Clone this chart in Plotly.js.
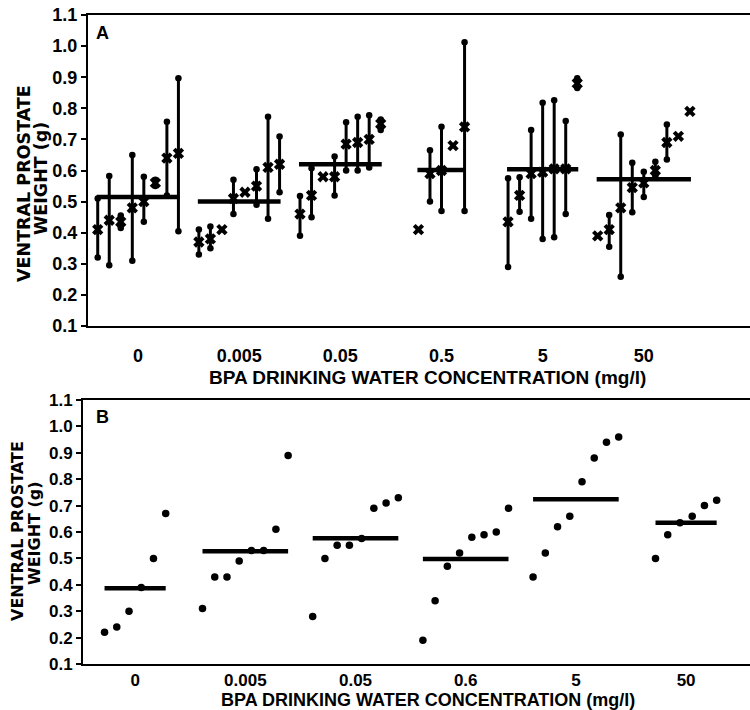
<!DOCTYPE html>
<html>
<head>
<meta charset="utf-8">
<script src="https://cdn.plot.ly/plotly-3.0.1.min.js"></script>
<style>html,body{margin:0;padding:0;background:#fff;}#chart{width:750px;height:710px;}</style>
</head>
<body>
<div id="chart"></div>
<script>
// ---------- DATA ----------
const doseLabelsA = ['0', '0.005', '0.05', '0.5', '5', '50'];
const doseLabelsB = ['0', '0.005', '0.05', '0.6', '5', '50'];

// Panel A: per-animal mean (x marker) with range (low/high), null = no range bar
const aMeans = [
  [0.41, 0.44, 0.435, 0.48, 0.50, 0.56, 0.64, 0.655],
  [0.37, 0.38, 0.41, 0.51, 0.53, 0.55, 0.61, 0.62],
  [0.46, 0.52, 0.58, 0.58, 0.685, 0.69, 0.70, 0.75],
  [0.41, 0.59, 0.60, 0.68, 0.74],
  [0.435, 0.52, 0.59, 0.595, 0.605, 0.605, 0.88],
  [0.39, 0.41, 0.48, 0.545, 0.56, 0.60, 0.69, 0.71, 0.79]
];
const aLows = [
  [0.32, 0.295, 0.415, 0.31, 0.435, 0.55, 0.52, 0.405],
  [0.33, 0.35, null, 0.46, null, 0.49, 0.445, 0.53],
  [0.39, 0.45, null, 0.52, 0.60, 0.60, 0.61, 0.73],
  [null, 0.50, 0.47, null, 0.47],
  [0.29, 0.467, 0.445, 0.38, 0.385, 0.46, 0.865],
  [null, 0.355, 0.258, 0.466, 0.515, 0.58, 0.635, null, null]
];
const aHighs = [
  [0.51, 0.582, 0.455, 0.65, 0.58, 0.57, 0.757, 0.897],
  [0.41, 0.42, null, 0.57, null, 0.604, 0.773, 0.709],
  [0.518, 0.607, null, 0.645, 0.755, 0.773, 0.778, 0.764],
  [null, 0.665, 0.741, null, 1.012],
  [0.575, 0.578, 0.73, 0.818, 0.826, 0.759, 0.897],
  [null, 0.457, 0.716, 0.625, 0.596, 0.628, 0.748, null, null]
];
const aGroupMeans = [0.515, 0.50, 0.62, 0.602, 0.604, 0.572];

// Panel B: individual values, sorted within each group
const bValues = [
  [0.22, 0.24, 0.30, 0.39, 0.50, 0.67],
  [0.31, 0.43, 0.43, 0.49, 0.53, 0.53, 0.61, 0.89],
  [0.28, 0.50, 0.55, 0.55, 0.575, 0.69, 0.71, 0.73],
  [0.19, 0.34, 0.47, 0.52, 0.58, 0.59, 0.60, 0.69],
  [0.43, 0.52, 0.62, 0.66, 0.79, 0.88, 0.94, 0.96],
  [0.50, 0.59, 0.635, 0.66, 0.70, 0.72]
];
const bGroupMeans = [0.387, 0.527, 0.576, 0.498, 0.724, 0.635];

const yTicks = [0.1, 0.2, 0.3, 0.4, 0.5, 0.6, 0.7, 0.8, 0.9, 1.0, 1.1];

// ---------- STYLE / LAYOUT CONSTANTS ----------
const FAM = 'Liberation Sans, Arial, Helvetica, sans-serif';
const FAM_WIDE = 'DejaVu Sans, Liberation Sans, sans-serif';
const BLACK = '#000';
const STEP_A = 0.114;
const STEP_B = 0.111;

function slotX(g, i, n, step) { return g + (i - (n - 1) / 2) * step; }

// ---------- PANEL A TRACES ----------
const traces = [];
{
  const lx = [], ly = [];
  aMeans.forEach((arr, g) => {
    const n = arr.length;
    lx.push(slotX(g, 0, n, STEP_A) - 0.01, slotX(g, n - 1, n, STEP_A) + 0.01, null);
    ly.push(aGroupMeans[g], aGroupMeans[g], null);
  });
  traces.push({x: lx, y: ly, xaxis: 'x', yaxis: 'y', mode: 'lines',
    line: {color: BLACK, width: 4.5}, hoverinfo: 'skip', showlegend: false});

  const mx = [], my = [], ep = [], em = [];
  const dx = [], dy = [];
  aMeans.forEach((arr, g) => {
    const n = arr.length;
    arr.forEach((m, i) => {
      const x = slotX(g, i, n, STEP_A);
      mx.push(x); my.push(m);
      const lo = aLows[g][i], hi = aHighs[g][i];
      ep.push(hi == null ? 0 : hi - m);
      em.push(lo == null ? 0 : m - lo);
      if (lo != null) { dx.push(x); dy.push(lo); }
      if (hi != null) { dx.push(x); dy.push(hi); }
    });
  });
  traces.push({x: mx, y: my, xaxis: 'x', yaxis: 'y', mode: 'markers',
    marker: {symbol: 'x', size: 10, color: BLACK, line: {width: 0}},
    error_y: {type: 'data', symmetric: false, array: ep, arrayminus: em,
      color: BLACK, thickness: 3, width: 0},
    hoverinfo: 'skip', showlegend: false});
  traces.push({x: dx, y: dy, xaxis: 'x', yaxis: 'y', mode: 'markers',
    marker: {symbol: 'circle', size: 6.5, color: BLACK},
    hoverinfo: 'skip', showlegend: false});
}

// ---------- PANEL B TRACES ----------
{
  const lx = [], ly = [];
  const px = [], py = [];
  bValues.forEach((arr, g) => {
    const n = arr.length;
    lx.push(slotX(g, 0, n, STEP_B), slotX(g, n - 1, n, STEP_B), null);
    ly.push(bGroupMeans[g], bGroupMeans[g], null);
    arr.forEach((v, i) => { px.push(slotX(g, i, n, STEP_B)); py.push(v); });
  });
  traces.push({x: lx, y: ly, xaxis: 'x2', yaxis: 'y2', mode: 'lines',
    line: {color: BLACK, width: 4.5}, hoverinfo: 'skip', showlegend: false});
  traces.push({x: px, y: py, xaxis: 'x2', yaxis: 'y2', mode: 'markers',
    marker: {symbol: 'circle', size: 7.5, color: BLACK},
    hoverinfo: 'skip', showlegend: false});
}

// ---------- LAYOUT ----------
const tickFont = (s) => ({family: FAM, size: s, color: BLACK, weight: 'bold'});
const yTickText = yTicks.map(v => v.toFixed(1));
function yAxis(domain, anchor, fs) {
  return {domain: domain, anchor: anchor, range: [0.1, 1.1], tickvals: yTicks, ticktext: yTickText,
    ticks: 'outside', ticklen: 5, tickwidth: 2, tickcolor: BLACK,
    showline: true, linecolor: BLACK, linewidth: 2, mirror: false,
    showgrid: false, zeroline: false, tickfont: tickFont(fs), fixedrange: true};
}
function xAxis(domain, anchor, range, labels, standoff, fs) {
  return {domain: domain, anchor: anchor, range: range,
    tickvals: labels.map((_, i) => i), ticktext: labels, ticks: '',
    ticklabelstandoff: standoff,
    showline: true, linecolor: BLACK, linewidth: 2, mirror: true,
    showgrid: false, zeroline: false, tickfont: tickFont(fs), fixedrange: true};
}

const ann = (text, x, y, size, angle, fam) => ({
  text: text, xref: 'paper', yref: 'paper', x: x, y: y, showarrow: false,
  xanchor: 'center', yanchor: 'middle', textangle: angle || 0,
  font: {family: fam || FAM, size: size, color: BLACK, weight: 'bold'}
});

const layout = {
  width: 750, height: 710,
  margin: {l: 83, r: 0, t: 15, b: 46, pad: 0},
  paper_bgcolor: '#fff', plot_bgcolor: '#fff',
  showlegend: false,
  xaxis: xAxis([0.0075, 1], 'y', [-0.495, 6.05], doseLabelsA, 12, 18),
  yaxis: yAxis([0.5208, 1], 'x', 18),
  xaxis2: xAxis([0, 1], 'y2', [-0.473, 5.58], doseLabelsB, 0, 17),
  yaxis2: yAxis([0, 0.4068], 'x2', 17),
  annotations: [
    ann('A', 0.0285, 0.9723, 18),
    ann('B', 0.0285, 0.3806, 18),
    ann('BPA DRINKING WATER CONCENTRATION (mg/l)', 0.517, 0.4407, 19),
    ann('BPA DRINKING WATER CONCENTRATION (mg/l)', 0.517, -0.0555, 18),
    ann('VENTRAL PROSTATE', (24 - 83) / 667, (664 - 184) / 649, 17.5, -90, FAM_WIDE),
    ann('WEIGHT (g)', (41 - 83) / 667, (664 - 179) / 649, 17.5, -90, FAM_WIDE),
    ann('VENTRAL PROSTATE', (17 - 83) / 667, (664 - 531) / 649, 16, -90, FAM_WIDE),
    ann('WEIGHT (g)', (34 - 83) / 667, (664 - 533) / 649, 16, -90, FAM_WIDE)
  ]
};

Plotly.newPlot('chart', traces, layout, {staticPlot: true, displayModeBar: false});
</script>
</body>
</html>
